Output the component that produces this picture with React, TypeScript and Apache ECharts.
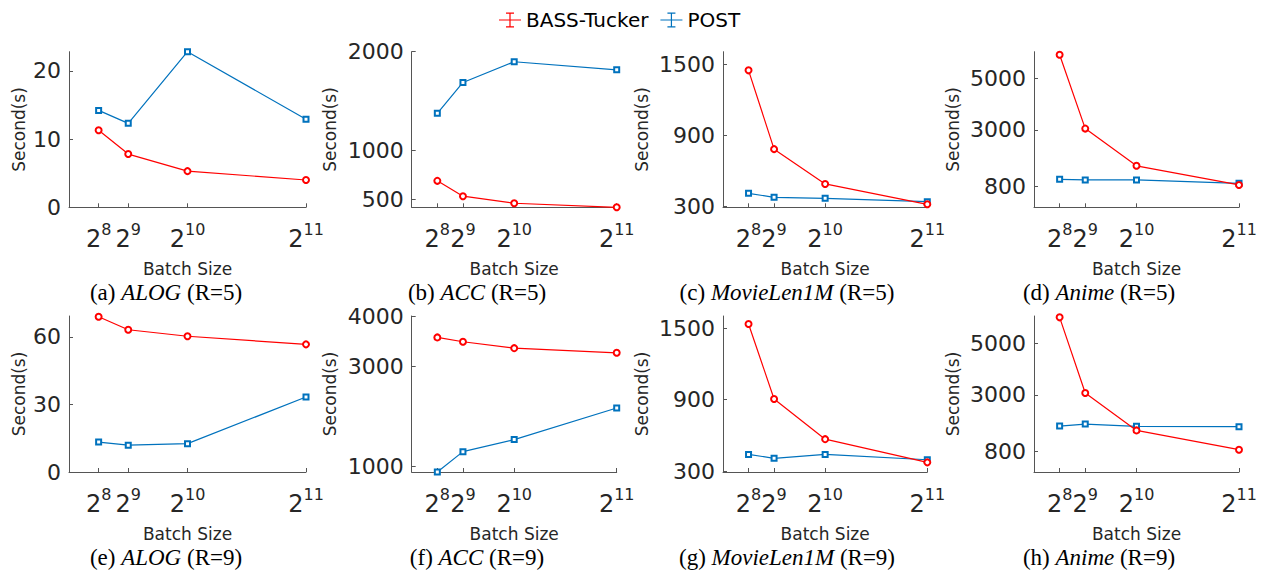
import React, { useEffect, useRef } from 'react';
import * as echarts from 'echarts';

// ---------- data ----------
const batchSizes = [256, 512, 1024, 2048];
const batchExponents = ['8', '9', '10', '11'];

// R = 5
const bassA = [11.3, 7.8, 5.3, 4.0];
const postA = [14.2, 12.3, 22.8, 12.9];
const bassB = [687, 531, 459, 418];
const postB = [1374, 1687, 1898, 1816];
const bassC = [1449, 785, 492, 320];
const postC = [413, 379, 371, 342];
const bassD = [5913, 3050, 1607, 866];
const postD = [1086, 1060, 1060, 930];
// R = 9
const bassE = [69.0, 63.2, 60.3, 56.7];
const postE = [13.3, 11.9, 12.6, 33.3];
const bassF = [3574, 3487, 3360, 3267];
const postF = [895, 1300, 1540, 2168];
const bassG = [1536, 906, 568, 373];
const postG = [440, 407, 440, 395];
const bassH = [6008, 3067, 1616, 867];
const postH = [1784, 1863, 1773, 1760];

// y tick labels
const ticksA = [0, 10, 20];
const ticksB = [500, 1000, 2000];
const ticksC = [300, 900, 1500];
const ticksD = [800, 3000, 5000];
const ticksE = [0, 30, 60];
const ticksF = [1000, 3000, 4000];
const ticksG = [300, 900, 1500];
const ticksH = [800, 3000, 5000];

// y ranges
const rangeA = [0, 22.8];
const rangeB = [418, 2000];
const rangeC = [295, 1606];
const rangeD = [0, 6030];
const rangeE = [0, 69.3];
const rangeF = [895, 4000];
const rangeG = [292, 1603];
const rangeH = [0, 6060];

// captions
const captionTags = ['(a)', '(b)', '(c)', '(d)', '(e)', '(f)', '(g)', '(h)'];
const datasetNames = ['ALOG', 'ACC', 'MovieLen1M', 'Anime', 'ALOG', 'ACC', 'MovieLen1M', 'Anime'];
const rankLabels = ['(R=5)', '(R=5)', '(R=5)', '(R=5)', '(R=9)', '(R=9)', '(R=9)', '(R=9)'];

const seriesNames = ['BASS-Tucker', 'POST'];

const panelsData = [
  { bass: bassA, post: postA, ticks: ticksA, range: rangeA },
  { bass: bassB, post: postB, ticks: ticksB, range: rangeB },
  { bass: bassC, post: postC, ticks: ticksC, range: rangeC },
  { bass: bassD, post: postD, ticks: ticksD, range: rangeD },
  { bass: bassE, post: postE, ticks: ticksE, range: rangeE },
  { bass: bassF, post: postF, ticks: ticksF, range: rangeF },
  { bass: bassG, post: postG, ticks: ticksG, range: rangeG },
  { bass: bassH, post: postH, ticks: ticksH, range: rangeH },
];

// ---------- layout ----------
const colLefts = [69, 411.7, 723, 1034];
const colWidths = [237, 205, 204.3, 205];
const rowTops = [51.7, 316];
const rowHeights = [155.6, 156];
const yNameGaps = [42, 73, 73, 73];
const captionX = [166, 477, 787, 1099];
const captionY = [292, 557];

const RED = '#ff0000';
const BLUE = '#0072BD';
const AXIS = '#555555';
const TEXT = '#262626';
const SANS = "'DejaVu Sans', 'Liberation Sans', sans-serif";
const SERIF = "'Liberation Serif', 'Times New Roman', serif";

const legendIcon =
  'path://M0,6.9h22v1.2h-22z M10.4,0h1.2v15h-1.2z M7,0h8v1.2h-8z M7,13.8h8v1.2h-8z';

function buildOption() {
  const grid: any[] = [];
  const xAxis: any[] = [];
  const yAxis: any[] = [];
  const series: any[] = [];
  const graphic: any[] = [];

  panelsData.forEach((p, i) => {
    const row = Math.floor(i / 4);
    const col = i % 4;
    grid.push({
      left: colLefts[col],
      top: rowTops[row],
      width: colWidths[col],
      height: rowHeights[row],
      containLabel: false,
    });
    xAxis.push({
      gridIndex: i,
      type: 'value',
      min: 0,
      max: 2048,
      axisLine: { show: true, onZero: false, lineStyle: { color: AXIS, width: 1 } },
      axisTick: { show: true, inside: true, length: 4, customValues: batchSizes, lineStyle: { color: AXIS } },
      splitLine: { show: false },
      axisLabel: {
        customValues: batchSizes,
        margin: 14,
        formatter: (v: number) => {
          const idx = batchSizes.indexOf(v);
          return `{b|2}{s|${batchExponents[idx]}}`;
        },
        rich: {
          b: { fontFamily: SANS, fontSize: 24, lineHeight: 30, color: TEXT, verticalAlign: 'bottom' },
          s: { fontFamily: SANS, fontSize: 16, lineHeight: 14, color: TEXT, verticalAlign: 'top' },
        },
      },
      name: 'Batch Size',
      nameLocation: 'middle',
      nameGap: 54,
      nameTextStyle: { fontFamily: SANS, fontSize: 17, lineHeight: 16, color: TEXT },
    });
    yAxis.push({
      gridIndex: i,
      type: 'value',
      min: p.range[0],
      max: p.range[1],
      axisLine: { show: true, onZero: false, lineStyle: { color: AXIS, width: 1 } },
      axisTick: { show: true, inside: true, length: 4, customValues: p.ticks, lineStyle: { color: AXIS } },
      splitLine: { show: false },
      axisLabel: {
        customValues: p.ticks,
        margin: 8,
        fontFamily: SANS,
        fontSize: 22,
        color: TEXT,
        formatter: (v: number) => String(v),
      },
      name: 'Second(s)',
      nameLocation: 'middle',
      nameRotate: 90,
      nameGap: yNameGaps[col],
      nameTextStyle: { fontFamily: SANS, fontSize: 17, color: TEXT },
    });
    series.push({
      type: 'line',
      name: seriesNames[0],
      xAxisIndex: i,
      yAxisIndex: i,
      data: batchSizes.map((x, j) => [x, p.bass[j]]),
      symbol: 'emptyCircle',
      symbolSize: 6,
      lineStyle: { color: RED, width: 1.2 },
      itemStyle: { color: RED, borderWidth: 1.1 },
      clip: false,
      z: 3,
    });
    series.push({
      type: 'line',
      name: seriesNames[1],
      xAxisIndex: i,
      yAxisIndex: i,
      data: batchSizes.map((x, j) => [x, p.post[j]]),
      symbol: 'emptyRect',
      symbolSize: 5,
      lineStyle: { color: BLUE, width: 1.2 },
      itemStyle: { color: BLUE, borderWidth: 1.1 },
      clip: false,
      z: 2,
    });
    graphic.push({
      type: 'text',
      x: captionX[col],
      y: captionY[row],
      style: {
        text: `{n|${captionTags[i]} }{it|${datasetNames[i]}}{n| ${rankLabels[i]}}`,
        textAlign: 'center',
        textVerticalAlign: 'middle',
        rich: {
          n: { fontFamily: SERIF, fontSize: 23, lineHeight: 18, fill: '#000' },
          it: { fontFamily: SERIF, fontSize: 23, lineHeight: 18, fontStyle: 'italic', fill: '#000' },
        },
      },
    });
  });

  return {
    animation: false,
    backgroundColor: '#ffffff',
    legend: {
      left: 499,
      top: 10,
      padding: 0,
      itemWidth: 22,
      itemHeight: 15,
      itemGap: 12,
      selectedMode: false,
      textStyle: { fontFamily: SANS, fontSize: 20, color: '#000' },
      data: [
        { name: seriesNames[0], icon: legendIcon, itemStyle: { color: RED, borderWidth: 0 } },
        { name: seriesNames[1], icon: legendIcon, itemStyle: { color: BLUE, borderWidth: 0 } },
      ],
    },
    grid,
    xAxis,
    yAxis,
    series,
    graphic,
  };
}

export default function App() {
  const ref = useRef<HTMLDivElement>(null);
  useEffect(() => {
    if (!ref.current) return;
    const chart = echarts.init(ref.current, undefined, { renderer: 'svg' });
    chart.setOption(buildOption() as any);
    return () => chart.dispose();
  }, []);
  return (
    <div
      ref={ref}
      style={{ position: 'absolute', left: 0, top: 0, width: 1266, height: 575, background: '#fff' }}
    />
  );
}
